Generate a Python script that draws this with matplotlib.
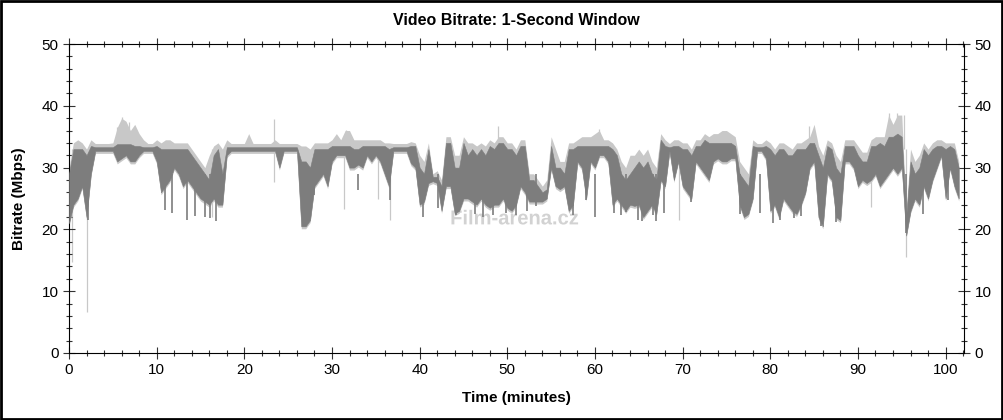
import numpy as np
import matplotlib
matplotlib.use("Agg")
import matplotlib.pyplot as plt
import matplotlib.patheffects as pe
from matplotlib.ticker import MultipleLocator
from matplotlib.patches import Rectangle

# ============================================
# DATA (0.5 minute steps)
# ============================================

time_min = np.arange(0, 102, 0.5)

band_high = [
    29, 33, 33, 33, 32, 33.5, 33.3, 33.3, 33.3, 33.3,            # 0 - 4.5
    33.3, 33.8, 33.8, 33.8, 33.8, 33.5, 33.5, 33.3, 33.3, 33.3,  # 5 - 9.5
    33.5, 33, 33, 33, 33, 33, 33, 33, 32, 31,                    # 10 - 14.5
    30, 29, 28, 32, 33, 29, 33.3, 33.3, 33.3, 33.3,              # 15 - 19.5
    33.3, 33.3, 33.3, 33.3, 33.3, 33.3, 33.3, 33.3, 33.3, 33.3,  # 20 - 24.5
    33.3, 33.3, 33.3, 31, 31, 30, 33, 33, 33, 33,                # 25 - 29.5
    33.5, 33.5, 33.5, 33.5, 33.5, 33, 33, 33.5, 33.5, 33.5,      # 30 - 34.5
    33.5, 33.5, 33.5, 33, 33.3, 33.3, 33.3, 33.3, 33.5, 33.5,    # 35 - 39.5
    30, 29, 33, 28.5, 28.5, 27, 34, 34, 30, 30,                  # 40 - 44.5
    34, 32, 33, 32, 33, 32, 33.5, 33, 34, 34,                    # 45 - 49.5
    33, 33, 32, 33.5, 33.5, 28, 28, 27, 26, 26.5,                # 50 - 54.5
    33.5, 30, 30, 29, 33, 33, 33.5, 33.5, 33.5, 33.5,            # 55 - 59.5
    33.5, 33.5, 33.5, 33.5, 33, 32, 29, 28, 29, 30,              # 60 - 64.5
    31, 30, 31, 29, 28, 34.5, 33.5, 33.3, 33.5, 33.5,            # 65 - 69.5
    33, 33, 32, 33.5, 33.5, 34.5, 34, 34, 34, 34,                # 70 - 74.5
    34, 34, 33.5, 29, 28, 27, 33.5, 33.3, 33.3, 33.5,            # 75 - 79.5
    33, 32, 33, 33, 32, 32, 33, 33, 33, 34,                      # 80 - 84.5
    34, 32, 30, 33.5, 33, 30, 29, 33.5, 33.5, 33.5,              # 85 - 89.5
    32, 31, 31, 33.5, 33.5, 34, 33.5, 35, 35, 35.5,              # 90 - 94.5
    35, 22, 31, 29, 30, 33, 32, 33, 33.5, 33.5,                  # 95 - 99.5
    33, 33.5, 33, 30,                                            # 100 - 101.5
]

band_low = [
    21, 24, 25, 27, 22, 29, 32.7, 32.7, 32.7, 32.7,
    32.7, 31, 31.5, 32, 31, 31, 32, 32.7, 32.7, 32.7,
    31, 26, 27, 28, 30, 29, 27, 28, 27, 26,
    25, 24.5, 24, 25, 24, 24, 32, 32.7, 32.7, 32.7,
    32.7, 32.7, 32.7, 32.7, 32.7, 32.7, 32.7, 32.7, 30, 32.7,
    32.7, 32.7, 32.7, 20.5, 20.5, 21.5, 27, 28, 29, 27,
    31, 32, 32, 32, 30, 30, 30.5, 30, 32, 31,
    32, 31, 29, 27, 32.7, 32.7, 32.7, 32.7, 30.7, 30,
    24, 24.5, 27.5, 27.8, 27.5, 23, 27, 27, 22.6, 23,
    25, 25, 24.5, 24, 25, 24, 23.5, 24, 24, 25,
    23.5, 23, 24, 27, 26, 24.5, 24.5, 24.5, 24.5, 25,
    30, 27, 26.5, 27, 23, 24, 31, 30, 25, 31,
    30, 32, 32, 31, 24, 25, 24, 23, 24, 23.8,
    24, 22, 23, 24, 22.5, 28, 27, 32.7, 28, 31,
    27, 26, 25, 31, 30, 29, 28, 31, 31.5, 31,
    31, 31.5, 31.5, 24, 22, 22.5, 25, 32.7, 32.7, 31.5,
    23, 24, 22, 25, 24, 23, 22.5, 24, 26, 30,
    31, 22, 20.5, 29, 28, 22, 21.5, 31, 31, 30,
    27, 28, 27.5, 28, 29, 27, 28, 29, 30, 29,
    30, 19, 23, 25, 24, 27, 25, 28, 30, 32,
    25, 30, 27, 25,
]

peak = [
    30, 34, 34.5, 34, 33, 34.5, 33.9, 33.9, 33.9, 33.9,
    34, 36.5, 38, 37.5, 36, 37, 35.5, 34.5, 33.9, 33.9,
    34.5, 34, 34.5, 34.5, 34, 34, 34, 34, 33, 32,
    31, 30, 32, 33.5, 34, 33, 34.5, 33.9, 33.9, 33.9,
    33.9, 35.5, 33.9, 33.9, 33.9, 33.9, 33.9, 34.5, 33.9, 33.9,
    33.9, 33.9, 33.9, 33.5, 33.5, 33, 34, 34, 34, 34,
    34.5, 35.5, 34.5, 36, 36, 34.5, 34.5, 34.5, 34.5, 34.5,
    34.5, 34.5, 34, 34, 33.9, 33.9, 33.9, 33.9, 34.2, 34,
    32, 31, 34, 29, 29.5, 28, 35, 35, 32, 32,
    35, 34, 34, 33.5, 34, 33.5, 34.5, 34, 35, 35,
    34, 34, 33, 34.5, 34.5, 29, 29, 28, 27, 28,
    35, 33, 31, 31, 34, 34, 34.5, 35, 35, 35,
    35.5, 36, 34.5, 34.5, 34, 33, 31, 30, 32, 32,
    33, 32, 33, 31, 30, 35.5, 34.5, 33.9, 34.5, 34.5,
    34, 34, 33, 34.5, 34.5, 35.5, 35, 35.5, 35.5, 36,
    36, 35.5, 35, 31, 30, 29, 34.5, 33.9, 33.9, 34.5,
    34, 33, 34, 34, 33.5, 33, 34, 34, 34.5, 35,
    37, 33.5, 32, 34.5, 34, 32, 31, 34.5, 34.5, 34.5,
    33.5, 32.5, 32.5, 34.5, 35, 35, 35, 38.5, 37, 38.5,
    38.5, 23, 33, 31, 32, 34, 33, 34, 34.5, 34.5,
    34, 34, 34, 31,
]

# thin one-second spikes in light grey (time, Mbps)
spike_time = [0.3, 2.1, 5.5, 6.1, 6.9, 16.3, 23.4, 23.4, 31.4, 31.6,
              35.2, 36.6, 48.9, 60.5, 69.6, 84.4, 91.5, 93.6, 94.4, 95.2, 95.5]
spike_value = [14.7, 6.7, 36.5, 38.2, 37.3, 22.0, 37.8, 27.7, 23.3, 36.1,
               25.0, 21.6, 36.8, 36.3, 21.6, 36.7, 23.7, 38.8, 38.8, 38.5, 15.6]

# deep dips in dark grey (time, Mbps)
dip_time = [2.2, 10.9, 11.7, 13.5, 14.4, 15.5, 16.1, 16.8, 28.0, 33.0,
            36.6, 40.4, 42.1, 44.2, 46.3, 47.2, 48.4, 49.9, 51.0, 52.2,
            53.3, 57.5, 59.0, 60.0, 62.2, 63.0, 63.5, 64.9, 65.4, 66.6, 67.0,
            67.9, 71.0, 76.5, 78.8, 80.3, 81.1, 82.7, 83.5, 85.8, 87.5, 87.9,
            95.5, 97.4, 100.3]
dip_value = [21.6, 23.2, 22.6, 21.6, 22.1, 22.0, 21.8, 21.3, 25.5, 26.4,
             24.8, 22.0, 23.5, 22.4, 22.5, 22.0, 22.3, 22.6, 22.4, 23.0,
             23.8, 22.4, 24.8, 22.0, 22.6, 22.4, 22.8, 21.5, 21.4, 22.3, 21.3,
             22.6, 24.5, 22.5, 22.7, 21.0, 21.6, 21.8, 22.1, 20.5, 21.2, 21.6,
             19.4, 22.5, 24.8]

DARK = "#7d7d7d"
LIGHT = "#c8c8c8"

# ============================================
# PLOT
# ============================================

plt.rcParams["font.family"] = ["Liberation Sans Narrow", "Liberation Sans", "DejaVu Sans"]

fig = plt.figure(figsize=(10.04, 4.2), dpi=100)
ax = fig.add_axes([69 / 1004, 67 / 420, 895 / 1004, 309 / 420])

# watermark behind the data
ax.text(50.8, 21.7, "Film-arena.cz", color="#d2d2d2", fontsize=14.5, fontweight="bold",
        family=["Liberation Sans", "DejaVu Sans"], ha="center", va="center", zorder=0,
        path_effects=[pe.withStroke(linewidth=2.5, foreground="white")])

ax.vlines(spike_time, 33, spike_value, color=LIGHT, lw=0.9, zorder=1)
ax.fill_between(time_min, np.array(band_low) - 0.4, peak, color=LIGHT, lw=0, zorder=2)
ax.vlines(dip_time, 29, dip_value, color=DARK, lw=1.2, zorder=3)
ax.fill_between(time_min, band_low, band_high, color=DARK, lw=0.4,
                edgecolor=DARK, zorder=3)

ax.set_xlim(0, 102.1)
ax.set_ylim(0, 50)
ax.xaxis.set_major_locator(MultipleLocator(10))
ax.xaxis.set_minor_locator(MultipleLocator(2))
ax.yaxis.set_major_locator(MultipleLocator(10))
ax.yaxis.set_minor_locator(MultipleLocator(2))
ax.tick_params(which="both", direction="inout", top=True, right=True,
               labelright=True, labelsize=11, width=0.8, color="#333333")
ax.tick_params(which="major", length=8)
ax.tick_params(which="minor", length=4)
for side in ["top", "right", "bottom", "left"]:
    ax.spines[side].set_linewidth(0.8)

ax.set_title("Video Bitrate: 1-Second Window", fontsize=11.5, fontweight="bold", pad=14,
             family=["Liberation Sans", "DejaVu Sans"])
ax.set_xlabel("Time (minutes)", fontsize=11, fontweight="bold", labelpad=10)
ax.set_ylabel("Bitrate (Mbps)", fontsize=11, fontweight="bold", labelpad=11)

fig.patches.append(Rectangle((0.001, 0.002), 0.997, 0.995, transform=fig.transFigure,
                             fill=False, edgecolor="black", lw=2))

fig.savefig("out.png", dpi=100)
